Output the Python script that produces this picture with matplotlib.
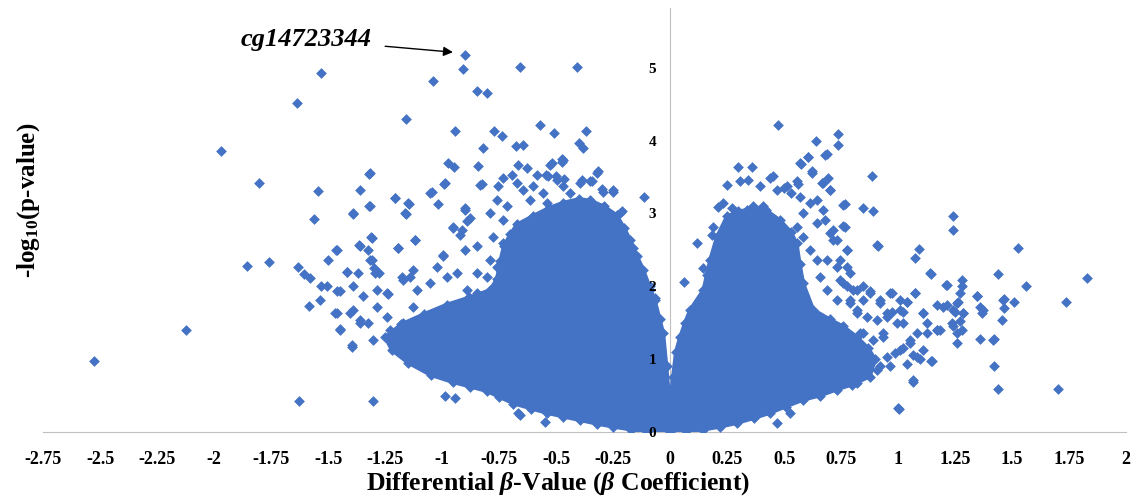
import numpy as np
import matplotlib.pyplot as plt

plt.rcParams['font.family'] = 'Liberation Serif'
plt.rcParams['mathtext.fontset'] = 'custom'
plt.rcParams['mathtext.rm'] = 'Liberation Serif:bold'
plt.rcParams['mathtext.it'] = 'Liberation Serif:bold:italic'
plt.rcParams['mathtext.bf'] = 'Liberation Serif:bold'

# outline of the solid blue mass (thousands of overlapping CpGs)
core_x = [-1.05, -1.15, -1.22, -1.25, -1.18, -1.08, -0.98, -0.88, -0.79, -0.76, -0.745,
          -0.73, -0.70, -0.672, -0.60, -0.53, -0.468, -0.40, -0.351, -0.29, -0.234,
          -0.20, -0.175, -0.145, -0.117, -0.09, -0.066, -0.045, -0.029, -0.015, -0.005,
          0.005, 0.012, 0.025, 0.044, 0.065, 0.088, 0.146, 0.16, 0.175, 0.205, 0.249,
          0.30, 0.336, 0.365, 0.42, 0.482, 0.53, 0.556, 0.57, 0.585, 0.629, 0.70,
          0.76, 0.819, 0.87, 0.90, 0.877,
          0.80, 0.731, 0.66, 0.585, 0.51, 0.439, 0.37, 0.292, 0.22, 0.146, 0.07, 0.0,
          -0.10, -0.17, -0.249, -0.32, -0.395, -0.47, -0.541, -0.61, -0.687, -0.75,
          -0.804, -0.877, -0.95]
core_y = [0.78, 0.95, 1.12, 1.30, 1.48, 1.62, 1.75, 1.85, 1.95, 2.10, 2.35,
          2.55, 2.72, 2.85, 2.97, 3.08, 3.15, 3.20, 3.18, 3.10, 2.98,
          2.80, 2.64, 2.42, 2.23, 2.00, 1.81, 1.55, 1.36, 0.90, 0.55,
          0.55, 0.75, 1.10, 1.31, 1.50, 1.68, 1.95, 2.15, 2.36, 2.68, 2.96,
          3.03, 3.05, 3.10, 3.05, 2.91, 2.75, 2.59, 2.30, 2.04, 1.68, 1.55,
          1.45, 1.31, 1.15, 1.00, 0.76,
          0.65, 0.58, 0.50, 0.44, 0.35, 0.26, 0.19, 0.12, 0.07, 0.03, 0.01, 0.0,
          0.0, 0.03, 0.07, 0.11, 0.16, 0.21, 0.26, 0.32, 0.39, 0.48,
          0.56, 0.62, 0.68]

# individual CpGs, negative side
neg_x = [-0.899, -0.907, -0.658, -0.407, -1.532, -1.038, -1.635, -0.848, -0.804, -1.159,
         -0.943, -0.772, -0.736, -0.570, -0.507, -0.370, -0.822, -0.675, -0.646, -0.398,
         -0.380, -0.475, -1.969, -1.804, -1.543, -1.561, -1.501, -1.857, -1.760, -1.630,
         -1.605, -1.579, -1.532, -1.506, -1.535, -1.582, -2.124, -2.525, -1.627,
         -0.972, -0.946, -0.841, -1.319, -1.361, -1.205, -1.319, -1.145, -1.159, -1.045,
         -0.990, -0.826, -1.016, -1.389, -1.118, -1.313, -1.363, -1.323, -1.193, -1.465,
         -0.994, -0.950, -0.921, -0.899, -0.877, -1.308, -1.298, -1.275, -1.418, -1.367,
         -1.447, -1.469, -1.447, -1.396, -1.392, -1.360, -1.323, -1.286, -1.235, -1.170,
         -1.126, -1.301, -0.987, -0.943, -0.665, -0.548,
         -0.519, -0.471, -0.314, -0.387, -0.544, -0.500, -0.465, -0.351, -0.300, -0.249,
         -0.219, -0.187, -0.161, -0.088, -0.058, -0.114, -0.066,
         -0.731, -0.694, -0.665, -0.629, -0.585, -0.526, -0.475, -0.534, -0.497, -0.833,
         -0.753, -0.672, -0.643, -0.599, -0.556, -0.468, -0.439, -0.395, -0.343, -0.322,
         -0.292, -0.249, -0.212, -0.789, -0.760, -0.716, -0.614, -0.541, -0.731, -0.775,
         -0.731, -0.672, -0.789, -0.760, -0.804, -0.848, -0.892, -0.899, -0.950, -0.914,
         -0.848, -0.899, -0.994, -1.023, -0.979, -0.936, -0.892, -0.848, -1.053, -1.111,
         -1.140, -1.177, -1.192, -1.118, -1.053, -0.987, -1.206, -1.148, -1.162, -1.316,
         -1.316, -1.389, -1.308, -1.360, -1.462, -1.316, -1.294, -1.418, -1.389, -1.462,
         -1.345, -1.243, -1.286, -1.404, -1.462, -1.360, -1.447, -1.301, -1.396, -1.228,
         -1.170, -1.243, -1.126, -1.184, -1.126, -1.053, -0.658]
neg_y = [5.18, 4.98, 5.01, 5.01, 4.93, 4.82, 4.52, 4.68, 4.65, 4.30,
         4.13, 4.13, 4.06, 4.22, 4.11, 4.13, 3.90, 3.92, 3.94, 3.97,
         3.90, 3.75, 3.86, 3.42, 3.31, 2.93, 2.36, 2.28, 2.33, 2.26,
         2.17, 2.12, 2.01, 2.01, 1.81, 1.73, 1.40, 0.97, 0.42,
         3.69, 3.64, 3.65, 3.54, 3.32, 3.21, 3.10, 3.13, 2.99, 3.29,
         3.40, 3.40, 3.13, 2.99, 2.64, 2.67, 2.56, 2.50, 2.52, 2.50,
         2.43, 2.82, 2.71, 3.07, 2.94, 2.36, 2.25, 2.18, 2.20, 2.18,
         1.93, 1.63, 1.41, 1.17, 1.67, 1.54, 1.49, 1.95, 1.90, 2.09,
         2.23, 0.42, 0.49, 0.46, 0.26, 0.14,
         3.69, 3.74, 3.58, 3.46, 3.53, 3.51, 3.47, 3.44, 3.33, 3.32,
         3.00, 2.64, 2.52, 1.95, 1.56, 3.23, 1.84,
         3.48, 3.53, 3.67, 3.62, 3.53, 3.67, 3.71, 3.51, 3.46, 3.39,
         3.37, 3.42, 3.32, 3.37, 3.28, 3.37, 3.28, 3.42, 3.44, 3.55,
         3.30, 3.30, 3.03, 3.00, 3.19, 3.10, 3.19, 3.14, 2.91, 2.68,
         2.59, 2.50, 2.36, 2.27, 2.13, 2.18, 2.89, 3.05, 2.80, 2.77,
         2.55, 2.50, 2.41, 2.27, 2.13, 2.18, 1.95, 1.91, 2.04, 1.95,
         2.13, 2.13, 2.52, 2.64, 3.28, 3.42, 3.21, 3.14, 3.00, 3.55,
         3.10, 3.00, 2.66, 2.55, 2.50, 2.36, 2.18, 2.20, 2.00, 1.93,
         1.86, 1.91, 1.72, 1.63, 1.63, 1.49, 1.40, 1.26, 1.20, 1.40,
         1.49, 1.58, 1.72, 1.13, 0.99, 0.85, 0.23]

# individual CpGs, positive side
pos_x = [0.117, 0.143, 0.063, 0.475, 0.300, 0.358, 0.249, 0.307, 0.344, 0.395,
         0.439, 0.453, 0.212, 0.183, 0.738, 0.738, 0.640, 0.687, 0.607, 0.573,
         0.621, 0.885, 0.694, 0.665, 0.702, 0.768, 0.848, 0.892, 0.760, 0.909,
         1.240, 1.240, 1.526, 1.093, 1.075, 1.145, 1.440, 1.830, 1.560, 1.280,
         1.280, 1.274, 1.210, 1.347, 1.360, 1.367, 1.464, 1.507, 1.467, 1.736,
         1.455, 1.257, 1.250, 1.284, 1.170, 1.214, 1.243, 1.243, 1.257, 1.272,
         1.280, 1.257, 1.360, 1.420, 1.420, 1.440, 1.700, 1.064, 1.006, 1.145,
         1.067, 1.096,
         0.965, 1.009, 1.075, 1.038, 0.972, 1.023, 1.111, 1.170, 1.184, 1.126,
         1.082, 1.053, 1.023, 0.987, 0.936, 0.906, 0.848, 0.819, 0.877, 0.921,
         0.863, 0.950, 0.994, 0.892, 0.950, 0.921, 0.833, 0.775, 0.789, 0.746,
         0.819, 0.848, 0.877, 0.775, 0.716, 0.746, 0.789, 0.672, 0.614, 0.570,
         0.643, 0.702, 0.775, 0.500, 0.530, 0.560,
         0.468, 0.512, 0.556, 0.570, 0.607, 0.680, 0.621, 0.672, 0.702, 0.643,
         0.585, 0.680, 0.716, 0.768, 0.760, 0.914, 0.775, 0.731, 0.687, 0.731,
         0.760, 0.804, 0.848, 0.877, 0.972, 1.038, 1.075, 1.140, 1.214, 1.265,
         1.287, 1.345, 1.374, 1.462, 1.418, 1.067, 1.001, 1.148, 1.082, 1.111,
         1.053, 1.111, 1.199, 1.235, 1.170, 1.126, 1.023, 0.950, 1.009, 0.921,
         0.936, 1.009, 1.038, 0.965, 0.906, 0.819, 0.848, 0.789, 0.468, 0.526,
         0.190, 0.234, 0.270, 0.409, 0.439, 0.556, 0.585, 0.614, 0.643, 0.658,
         0.687, 0.731, 0.789, 0.819]
pos_y = [2.60, 2.25, 2.06, 4.22, 3.64, 3.64, 3.39, 3.44, 3.46, 3.37,
         3.48, 3.52, 3.09, 2.71, 4.09, 3.94, 4.00, 3.81, 3.78, 3.68,
         3.58, 3.51, 3.48, 3.42, 3.32, 3.13, 3.07, 3.04, 2.83, 2.56,
         2.97, 2.77, 2.52, 2.51, 2.39, 2.17, 2.17, 2.12, 2.01, 2.09,
         2.00, 1.91, 2.02, 1.86, 1.72, 1.63, 1.82, 1.79, 1.70, 1.79,
         1.54, 1.77, 1.65, 1.63, 1.74, 1.74, 1.68, 1.45, 1.36, 1.52,
         1.40, 1.22, 1.27, 1.27, 0.91, 0.59, 0.59, 0.69, 0.31, 0.98,
         1.06, 1.00,
         1.91, 1.81, 1.91, 1.79, 1.65, 1.65, 1.63, 1.40, 1.40, 1.36,
         1.36, 1.26, 1.15, 1.08, 1.36, 1.54, 1.81, 1.95, 1.93, 1.81,
         1.58, 1.63, 1.49, 1.26, 1.03, 0.90, 1.36, 2.00, 1.81, 2.09,
         1.63, 1.36, 1.03, 2.50, 2.64, 2.36, 2.18, 3.05, 3.14, 3.23,
         2.87, 2.73, 2.27, 3.35, 3.28, 3.40,
         3.32, 3.37, 3.44, 3.69, 3.78, 3.80, 3.55, 3.42, 3.32, 3.19,
         3.00, 2.91, 2.77, 2.82, 3.12, 2.55, 2.50, 2.64, 2.36, 2.27,
         2.04, 1.95, 2.00, 1.91, 1.91, 1.79, 1.91, 2.18, 2.02, 1.79,
         1.63, 1.86, 1.68, 1.81, 1.26, 0.71, 0.33, 0.97, 1.03, 1.13,
         1.22, 1.63, 1.72, 1.49, 1.40, 1.49, 1.49, 1.58, 1.68, 1.77,
         1.31, 1.13, 0.94, 0.90, 0.85, 0.67, 0.85, 0.76, 0.12, 0.26,
         2.82, 3.14, 3.07, 3.10, 2.96, 2.82, 2.68, 2.50, 2.36, 2.13,
         1.95, 1.81, 1.77, 1.68]

x_ticks = [-2.75, -2.5, -2.25, -2, -1.75, -1.5, -1.25, -1, -0.75, -0.5, -0.25,
           0, 0.25, 0.5, 0.75, 1, 1.25, 1.5, 1.75, 2]
y_ticks = [0, 1, 2, 3, 4, 5]

blue = '#4472C4'

fig = plt.figure(figsize=(11.36, 5.0), dpi=100)
ax = fig.add_axes([0.0379, 0.136, 0.9533, 0.848])

ax.fill(core_x, core_y, color=blue, lw=2.5, ec=blue, zorder=2)
ax.scatter(core_x, core_y, marker='D', s=30, color=blue, lw=0, zorder=3)
ax.scatter(neg_x, neg_y, marker='D', s=30, color=blue, lw=0, zorder=3)
ax.scatter(pos_x, pos_y, marker='D', s=30, color=blue, lw=0, zorder=3)

ax.set_xlim(-2.75, 2.0)
ax.set_ylim(0, 5.82)

for s in ['top', 'right']:
    ax.spines[s].set_visible(False)
ax.spines['left'].set_position(('data', 0))
ax.spines['left'].set_color('#c0c0c0')
ax.spines['bottom'].set_color('#c0c0c0')
ax.spines['left'].set_zorder(1)
ax.spines['bottom'].set_zorder(1)

ax.set_xticks(x_ticks)
ax.set_xticklabels([f'{t:g}' for t in x_ticks], fontsize=13, fontweight='bold')
ax.set_yticks(y_ticks)
ax.set_yticklabels([str(t) for t in y_ticks], fontsize=11, fontweight='bold')
ax.tick_params(axis='x', length=0, pad=14)
ax.tick_params(axis='y', length=0, pad=10)
# y labels sit on top of the cloud, as in the original
ax.yaxis.set_zorder(5)

ax.annotate('cg14723344', xy=(-0.94, 5.21), xytext=(-1.31, 5.39),
            ha='right', va='center', fontsize=19, fontweight='bold', fontstyle='italic',
            arrowprops=dict(arrowstyle='-|>', color='black', lw=1, shrinkA=8, shrinkB=2,
                            mutation_scale=14))

fig.text(0.025, 0.6, '-log$_{10}$(p-value)', rotation=90, ha='center', va='center',
         fontsize=18, fontweight='bold')
fig.text(0.491, 0.032, r'Differential $\beta$-Value ($\beta$ Coefficient)', ha='center',
         va='center', fontsize=18.5, fontweight='bold')

fig.savefig('out.png', dpi=100)
